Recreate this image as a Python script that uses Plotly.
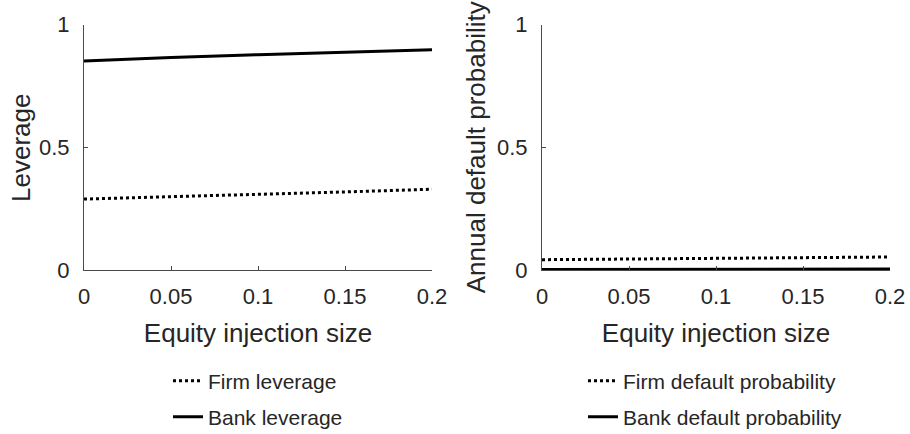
import plotly.graph_objects as go

# Equity injection sizes (x values shared by both panels)
injection = [0.0, 0.05, 0.10, 0.15, 0.20]

# Left panel: leverage
firm_leverage = [0.289, 0.298, 0.308, 0.318, 0.329]
bank_leverage = [0.851, 0.866, 0.877, 0.887, 0.897]

# Right panel: annual default probability
firm_default = [0.042, 0.045, 0.047, 0.050, 0.053]
bank_default = [0.002, 0.0025, 0.003, 0.0035, 0.004]

x_ticks = [0, 0.05, 0.1, 0.15, 0.2]
x_tick_text = ["0", "0.05", "0.1", "0.15", "0.2"]
y_ticks = [0, 0.5, 1]
y_tick_text = ["0", "0.5", "1"]

W, H = 910, 434
INK = "#262626"
FONT = "Liberation Sans, Arial, Helvetica, sans-serif"

fig = go.Figure()

series = [
    (firm_leverage, "Firm leverage", "dot", "x", "y", "legend"),
    (bank_leverage, "Bank leverage", "solid", "x", "y", "legend2"),
    (firm_default, "Firm default probability", "dot", "x2", "y2", "legend3"),
    (bank_default, "Bank default probability", "solid", "x2", "y2", "legend4"),
]
for vals, name, dash, xa, ya, lg in series:
    fig.add_trace(go.Scatter(
        x=injection, y=vals, name=name, mode="lines",
        line=dict(color="black", width=3, dash=dash),
        xaxis=xa, yaxis=ya, legend=lg, showlegend=True,
    ))

def px_x(p):
    return p / W

def px_y(p):
    return 1 - p / H

axis_common = dict(
    showline=True, linecolor="#4a4a4a", linewidth=1,
    ticks="inside", ticklen=4, tickcolor="#4a4a4a", tickwidth=1,
    showgrid=False, zeroline=False, mirror=False,
    tickfont=dict(family=FONT, size=22, color=INK),
)
title_font = dict(family=FONT, size=26, color=INK)

xdom1 = [px_x(84), px_x(432)]
xdom2 = [px_x(542), px_x(890)]
ydom = [px_y(270), px_y(24.5)]

for xa, ya, dom in [("xaxis", "yaxis", xdom1), ("xaxis2", "yaxis2", xdom2)]:
    anchor_y = "y" if ya == "yaxis" else "y2"
    anchor_x = "x" if xa == "xaxis" else "x2"
    fig.layout[xa] = dict(
        axis_common, domain=dom, anchor=anchor_y, range=[0, 0.2],
        tickvals=x_ticks, ticktext=x_tick_text, ticklabelstandoff=7,
        title=dict(text="Equity injection size", standoff=15, font=title_font),
    )
    fig.layout[ya] = dict(
        axis_common, domain=ydom, anchor=anchor_x, range=[0, 1],
        tickvals=y_ticks, ticktext=y_tick_text, ticklabelstandoff=9,
    )

# Right y title as a regular axis title
fig.layout.yaxis2.title = dict(text="Annual default probability", standoff=3,
                               font=title_font)

# Left y title sits close to the page edge, so place it as rotated text
fig.add_annotation(
    text="Leverage", textangle=-90, showarrow=False,
    xref="paper", yref="paper", x=px_x(21), y=px_y(148),
    xanchor="center", yanchor="middle", font=title_font,
)

legend_font = dict(family=FONT, size=21, color=INK)
legend_pos = {
    "legend": (168, 381),
    "legend2": (168, 417),
    "legend3": (583, 381),
    "legend4": (583, 417),
}
for key, (lx, ly) in legend_pos.items():
    fig.layout[key] = dict(
        x=px_x(lx), y=px_y(ly), xanchor="left", yanchor="middle",
        xref="paper", yref="paper", bgcolor="rgba(0,0,0,0)",
        borderwidth=0, font=legend_font,
    )

fig.update_layout(
    width=W, height=H,
    margin=dict(l=0, r=0, t=0, b=0, autoexpand=False),
    paper_bgcolor="white", plot_bgcolor="white",
    font=dict(family=FONT, color=INK),
)

fig.write_html("out.html")
